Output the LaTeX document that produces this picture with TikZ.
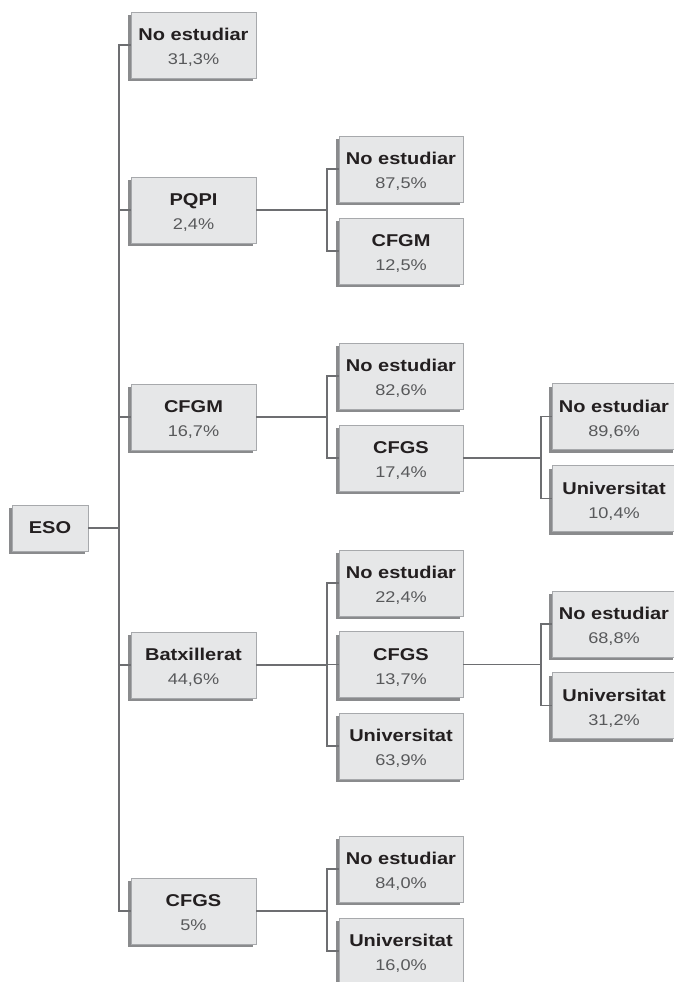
\documentclass[tikz,border=0pt]{standalone}
\usepackage{fontspec}
\newfontfamily\hfont{Liberation Sans}[FakeStretch=1.17]
\usetikzlibrary{shadows}
\definecolor{boxc}{HTML}{E6E7E8}
\definecolor{bordc}{HTML}{A7A9AC}
\definecolor{shc}{HTML}{8A8B8D}
\definecolor{linec}{HTML}{6D6E71}
\definecolor{ttlc}{HTML}{231F20}
\definecolor{pctc}{HTML}{58595B}
\tikzset{
  box/.style={draw=bordc, fill=boxc, line width=0.8pt, inner sep=0pt,
    minimum height=66pt, minimum width=124pt,
    drop shadow={shadow xshift=-3pt, shadow yshift=-3pt, fill=shc, opacity=1}},
  ttl/.style={inner sep=0pt, anchor=base, text=ttlc, font=\hfont\bfseries\fontsize{17.1}{20}\selectfont},
  pct/.style={inner sep=0pt, anchor=base, text=pctc, font=\hfont\fontsize{15.5}{18}\selectfont},
  conn/.style={draw=linec, line width=1.6pt}
}
\newcommand\bx[6]{%
  \node[box, minimum width=#4] (#1) at (#2,#3) {};
  \node[ttl] (#1t) at ([yshift=-29pt]#1.north) {#5};
  \node[pct] (#1p) at ([yshift=-53pt]#1.north) {#6};
}
\begin{document}
\begin{tikzpicture}[x=1pt, y=-1pt]
\useasboundingbox (0,0) rectangle (674,982);
\clip (0,0) rectangle (674,982);
% root
\node[box, minimum width=76pt, minimum height=46pt, text=ttlc,
  font=\hfont\bfseries\fontsize{17.1}{20}\selectfont] (eso) at (50,528) {ESO};
% level 1
\bx{a1}{193.5}{45}{125pt}{No estudiar}{31,3\%}
\bx{a2}{193.5}{210}{125pt}{PQPI}{2,4\%}
\bx{a3}{193.5}{417}{125pt}{CFGM}{16,7\%}
\bx{a4}{193.5}{665}{125pt}{Batxillerat}{44,6\%}
\bx{a5}{193.5}{911}{125pt}{CFGS}{5\%}
% level 2
\bx{b1}{401}{169}{124pt}{No estudiar}{87,5\%}
\bx{b2}{401}{251}{124pt}{CFGM}{12,5\%}
\bx{b3}{401}{376}{124pt}{No estudiar}{82,6\%}
\bx{b4}{401}{458}{124pt}{CFGS}{17,4\%}
\bx{b5}{401}{583}{124pt}{No estudiar}{22,4\%}
\bx{b6}{401}{664.5}{124pt}{CFGS}{13,7\%}
\bx{b7}{401}{746}{124pt}{Universitat}{63,9\%}
\bx{b8}{401}{869}{124pt}{No estudiar}{84,0\%}
\bx{b9}{401}{951}{124pt}{Universitat}{16,0\%}
% level 3
\bx{c1}{614}{416.5}{124pt}{No estudiar}{89,6\%}
\bx{c2}{614}{498.5}{124pt}{Universitat}{10,4\%}
\bx{c3}{614}{624}{124pt}{No estudiar}{68,8\%}
\bx{c4}{614}{705.5}{124pt}{Universitat}{31,2\%}
% junction columns
\coordinate (j1) at (119,528);
\coordinate (j2) at (327,0);
\coordinate (j3) at (541,0);
% connectors root -> level 1
\draw[conn] (eso.east) -- (eso.east -| j1);
\draw[conn] (a1.west) -- (a1.west -| j1) -- (a5.west -| j1) -- (a5.west);
\draw[conn] (a2.west) -- (a2.west -| j1);
\draw[conn] (a3.west) -- (a3.west -| j1);
\draw[conn] (a4.west) -- (a4.west -| j1);
% PQPI
\draw[conn] (a2.east) -- (a2.east -| j2);
\draw[conn] (b1.west) -- (b1.west -| j2) -- (b2.west -| j2) -- (b2.west);
% CFGM
\draw[conn] (a3.east) -- (a3.east -| j2);
\draw[conn] (b3.west) -- (b3.west -| j2) -- (b4.west -| j2) -- (b4.west);
% Batxillerat
\draw[conn] (a4.east) -- (a4.east -| j2);
\draw[conn] (b5.west) -- (b5.west -| j2) -- (b7.west -| j2) -- (b7.west);
\draw[conn] (b6.west) -- (b6.west -| j2);
% CFGS
\draw[conn] (a5.east) -- (a5.east -| j2);
\draw[conn] (b8.west) -- (b8.west -| j2) -- (b9.west -| j2) -- (b9.west);
% level 3
\draw[conn] (b4.east) -- (b4.east -| j3);
\draw[conn] (c1.west) -- (c1.west -| j3) -- (c2.west -| j3) -- (c2.west);
\draw[conn] (b6.east) -- (b6.east -| j3);
\draw[conn] (c3.west) -- (c3.west -| j3) -- (c4.west -| j3) -- (c4.west);
\end{tikzpicture}
\end{document}
